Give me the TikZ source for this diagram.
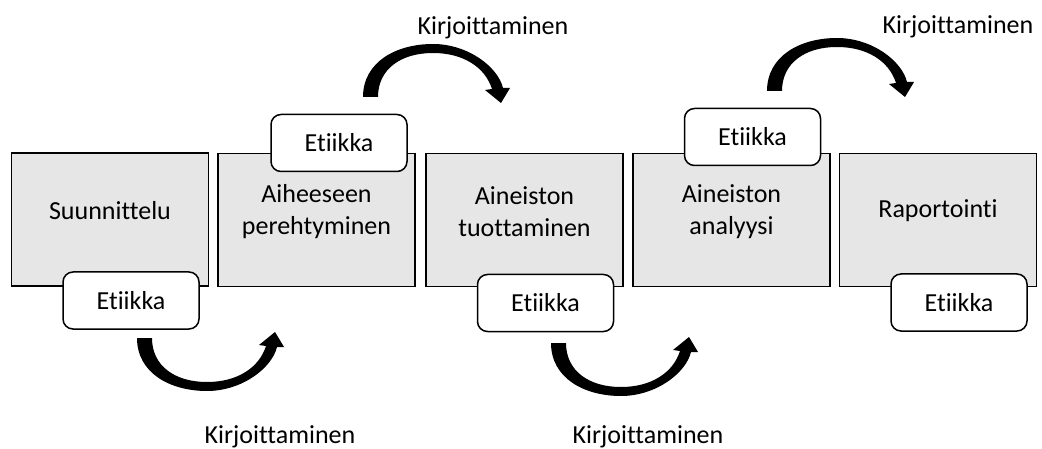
\documentclass[tikz,border=0pt]{standalone}
\usepackage{fontspec}
\setmainfont{Carlito}[Ligatures=NoCommon]
\definecolor{boxgray}{HTML}{E6E6E6}
\tikzset{
  stage/.style={draw=black, line width=1.5pt, fill=boxgray, minimum width=197pt, minimum height=133pt, inner sep=0pt},
  stagetext/.style={align=center, font=\fontsize{26}{32}\selectfont, inner sep=0pt},
  ethics/.style={draw=black, line width=1.5pt, fill=white, rounded corners=10pt, minimum width=136pt, minimum height=57pt, inner sep=0pt, font=\fontsize{26}{32}\selectfont},
  writelabel/.style={font=\fontsize{26}{32}\selectfont, inner sep=0pt},
  curvarr/.pic={
    \fill[black] (0,0) .. controls (0,35) and (33,53) .. (70,53)
      .. controls (105,53) and (135,30) .. (140,9)
      -- (147,9) -- (138,-6) -- (122,7) -- (129,8)
      .. controls (122,30) and (100,44) .. (70,44)
      .. controls (38,44) and (15,28) .. (15,0) -- cycle;
  }
}
\begin{document}
\begin{tikzpicture}[x=1pt,y=-1pt]
\useasboundingbox (0,0) rectangle (1042,449);
% stages
\node[stage] (s1) at (110,219.5) {};
\node[stage] (s2) at (316.5,220) {};
\node[stage] (s3) at (524.5,220) {};
\node[stage] (s4) at (731.5,220) {};
\node[stage] (s5) at (938,220) {};
\node[stagetext] (t1) at ([yshift=9pt]s1.center) {Suunnittelu};
\node[stagetext] (t2) at ([yshift=8pt]s2.center) {Aiheeseen\\perehtyminen};
\node[stagetext] (t3) at ([yshift=8pt]s3.center) {Aineiston\\tuottaminen};
\node[stagetext] (t4) at ([yshift=8pt]s4.center) {Aineiston\\analyysi};
\node[stagetext] (t5) at ([yshift=9pt]s5.center) {Raportointi};
% ethics
\node[ethics] (e1) at (131,300.5) {Etiikka};
\node[ethics] (e2) at (339,143) {Etiikka};
\node[ethics] (e3) at (545.5,303) {Etiikka};
\node[ethics] (e4) at (752.5,137) {Etiikka};
\node[ethics] (e5) at (959,302.5) {Etiikka};
% arrows
\pic at (137,338) {curvarr};
\pic[yscale=-1] at (363,97) {curvarr};
\pic at (551,343) {curvarr};
\pic[yscale=-1] at (767,91) {curvarr};
% labels
\node[writelabel] (w1) at (280,437) {Kirjoittaminen};
\node[writelabel] (w2) at (493,28) {Kirjoittaminen};
\node[writelabel] (w3) at (648,437) {Kirjoittaminen};
\node[writelabel] (w4) at (958,27) {Kirjoittaminen};
\end{tikzpicture}
\end{document}
